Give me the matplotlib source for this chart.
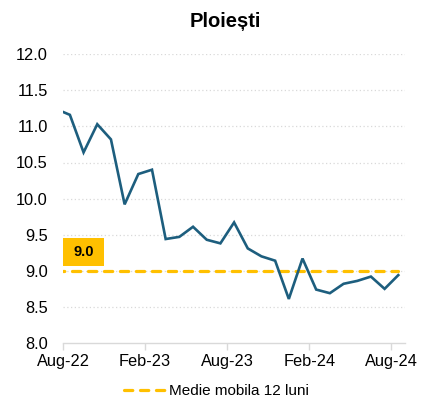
import matplotlib
matplotlib.use('Agg')
import matplotlib.pyplot as plt
from matplotlib.patches import Rectangle
import numpy as np

plt.rcParams['font.family'] = ['Liberation Sans', 'DejaVu Sans']

# monthly values, Jul-22 .. Aug-24 (Jul-22 only shows as the clipped stub on the left)
months = ['Jul-22', 'Aug-22', 'Sep-22', 'Oct-22', 'Nov-22', 'Dec-22',
          'Jan-23', 'Feb-23', 'Mar-23', 'Apr-23', 'May-23', 'Jun-23',
          'Jul-23', 'Aug-23', 'Sep-23', 'Oct-23', 'Nov-23', 'Dec-23',
          'Jan-24', 'Feb-24', 'Mar-24', 'Apr-24', 'May-24', 'Jun-24',
          'Jul-24', 'Aug-24']
values = [11.24, 11.16, 10.64, 11.03, 10.82, 9.92,
          10.34, 10.40, 9.44, 9.47, 9.61, 9.43,
          9.38, 9.67, 9.31, 9.20, 9.14, 8.61,
          9.17, 8.74, 8.69, 8.82, 8.86, 8.92,
          8.75, 8.94]
ma_value = 9.0
moving_avg = [ma_value] * len(months)

tick_labels = ['Aug-22', 'Feb-23', 'Aug-23', 'Feb-24', 'Aug-24']
yticks = np.arange(8.0, 12.01, 0.5)

# date-like axis: month starts on integers, points sit mid-month
x = np.arange(len(months)) - 1 + 0.5
tick_pos = [months.index(m) - 1 for m in tick_labels]

blue = '#1d5e7e'
gold = '#ffc000'
grey = '#d9d9d9'

fig = plt.figure(figsize=(4.26, 4.0), dpi=100)
ax = fig.add_axes([0.148, 0.1425, 0.803, 0.722])

ax.plot(x, moving_avg, color=gold, lw=2.3, dashes=(2.6, 2.4),
        dash_capstyle='round', label='Medie mobila 12 luni', zorder=3)
ax.plot(x, values, color=blue, lw=1.9, solid_joinstyle='miter', zorder=4)

ax.set_xlim(0, 25)
ax.set_ylim(8.0, 12.0)
ax.set_yticks(yticks)
ax.set_yticklabels([f'{v:.1f}' for v in yticks])
ax.set_xticks(tick_pos)
ax.set_xticklabels(tick_labels)

for y in yticks[1:]:
    ax.axhline(y, color=grey, lw=0.9, ls=(0, (1, 2)), zorder=1)

for s in ['top', 'right', 'left']:
    ax.spines[s].set_visible(False)
ax.spines['bottom'].set_color(grey)
ax.spines['bottom'].set_linewidth(1.0)
ax.tick_params(axis='y', length=0, pad=11, labelsize=11.8, colors='#000000')
ax.tick_params(axis='x', length=5, width=1.0, color=grey, pad=3, labelsize=11.8)

# value label box above the moving average
ax.add_patch(Rectangle((0, ma_value + 0.07), 3.0, 0.39, facecolor=gold,
                       edgecolor='none', zorder=5, clip_on=False))
ax.text(1.5, ma_value + 0.265, f'{ma_value:.1f}', ha='center', va='center',
        fontsize=10.5, fontweight='bold', color='black', zorder=6)

fig.text(0.528, 0.946, 'Ploiești', ha='center', va='center',
         fontsize=14.5, fontweight='bold')

fig.legend(loc='center', bbox_to_anchor=(0.508, 0.022), frameon=False,
           fontsize=11, handlelength=2.8, handletextpad=0.15,
           borderaxespad=0)

fig.savefig('out.png', dpi=100)
